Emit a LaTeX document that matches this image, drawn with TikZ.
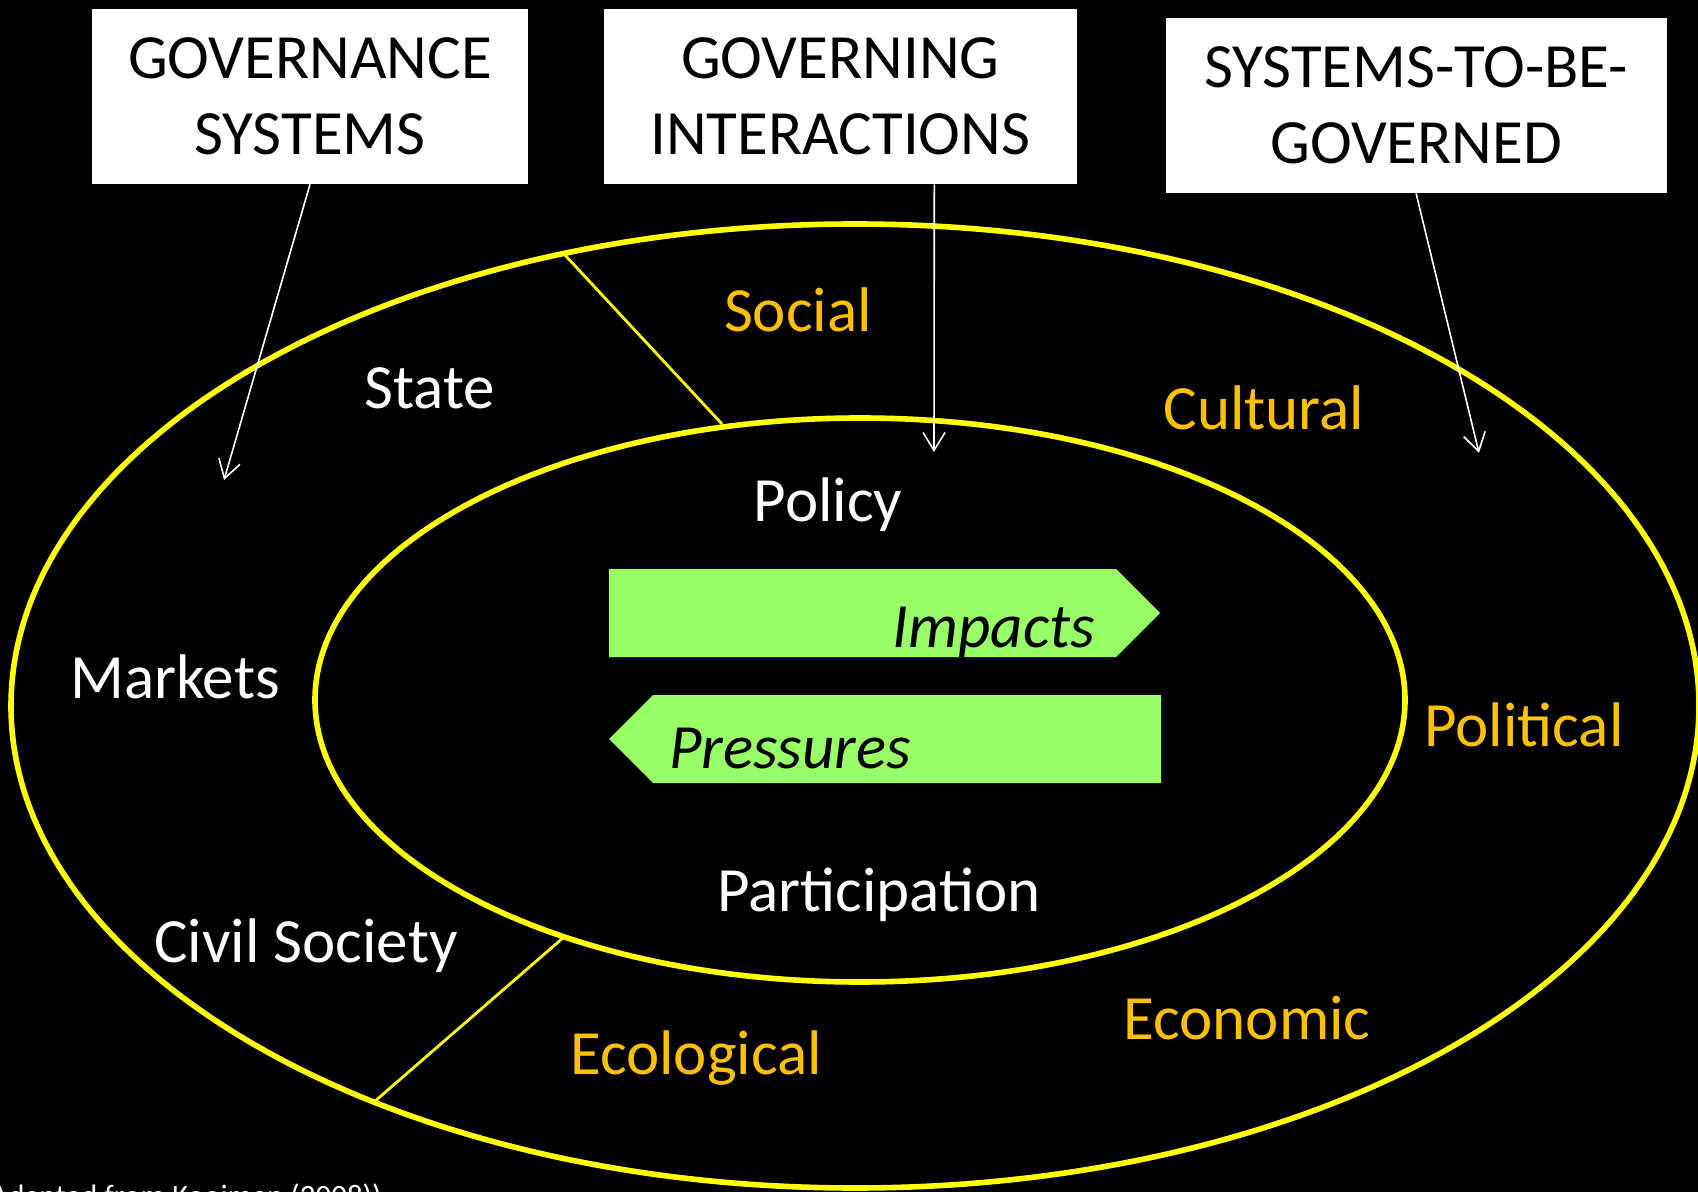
\documentclass[tikz,border=0pt]{standalone}
\usepackage{fontspec}
\setmainfont{Carlito}
\usetikzlibrary{arrows.meta,positioning}

\definecolor{ringyellow}{HTML}{FFFF00}
\definecolor{labelorange}{HTML}{FFC000}
\definecolor{flowgreen}{HTML}{99FF66}

\begin{document}
\begin{tikzpicture}[x=0.5pt, y=-0.5pt, >={Straight Barb[length=9pt, width=11pt]}]

    \tikzstyle{hdr} = [rectangle, fill=white, text=black, align=center, inner sep=0pt, minimum height=87.5pt, font=\fontsize{31.5}{38}\selectfont]
    \tikzstyle{lbl} = [anchor=base, inner sep=0pt, text=white, font=\fontsize{31.5}{38}\selectfont]
    \tikzstyle{sys} = [lbl, text=labelorange]
    \tikzstyle{flow} = [lbl, text=black, font=\fontsize{31.5}{38}\selectfont\itshape]
    \tikzstyle{ring} = [draw=ringyellow, line width=2.8pt]
    \tikzstyle{cut} = [draw=ringyellow, line width=1.4pt]
    \tikzstyle{pointer} = [draw=white, line width=0.8pt]

    \path[use as bounding box, fill=black] (0,0) rectangle (1698,1192);
    \clip (0,0) rectangle (1698,1192);

    % headers
    \node (gsys)  [hdr, minimum width=218pt] at (310,96.5)          {GOVERNANCE\\SYSTEMS};
    \node (gint)  [hdr, minimum width=236.5pt, right=37.5pt of gsys] {GOVERNING\\INTERACTIONS};
    \node (tobe)  [hdr, minimum width=250.5pt, right=44pt of gint, yshift=-4.5pt] {SYSTEMS-TO-BE-\\GOVERNED};

    % rings
    \path[ring] (855,706) ellipse [x radius=844, y radius=482];
    \path[ring] (860,700) ellipse [x radius=545, y radius=282];
    \path[cut]  (564,254) -- (722,424);
    \path[cut]  (564,937) -- (374,1102);

    % impacts / pressures
    \fill[flowgreen] (609,569) -- (1116,569) -- (1160,613) -- (1116,657) -- (609,657) -- cycle;
    \fill[flowgreen] (609,739) -- (653,695) -- (1161,695) -- (1161,783) -- (653,783) -- cycle;
    \node (impacts)   [flow] at (994,647) {Impacts};
    \node (pressures) [flow] at (790,768) {Pressures};

    % governance systems
    \node (state)   [lbl] at (430,409)  {State};
    \node (markets) [lbl] at (175,698)  {Markets};
    \node (civil)   [lbl] at (306,962)  {Civil Society};

    % governing interactions
    \node (policy)  [lbl] at (828,522)  {Policy};
    \node (partic)  [lbl] at (879,911)  {Participation};

    % systems-to-be-governed
    \node (social)    [sys] at (798,332)   {Social};
    \node (cultural)  [sys] at (1264,430)  {Cultural};
    \node (political) [sys] at (1524,746)  {Political};
    \node (economic)  [sys] at (1247,1039) {Economic};
    \node (ecolog)    [sys] at (696,1074)  {Ecological};

    \node (source) [anchor=base west, inner sep=0pt, text=white, font=\fontsize{15.5}{18}\selectfont] at (-10,1206) {Adapted from Kooiman (2008))};

    % pointers
    \coordinate (gsysend) at (224,480);
    \coordinate (gintend) at (934,452);
    \coordinate (tobeend) at (1479,453);

    \draw[->, pointer] (gsys.south)                 -- (gsysend);
    \draw[->, pointer] ([xshift=47pt]gint.south)   -- (gintend);
    \draw[->, pointer] (tobe.south)                 -- (tobeend);
\end{tikzpicture}
\end{document}
